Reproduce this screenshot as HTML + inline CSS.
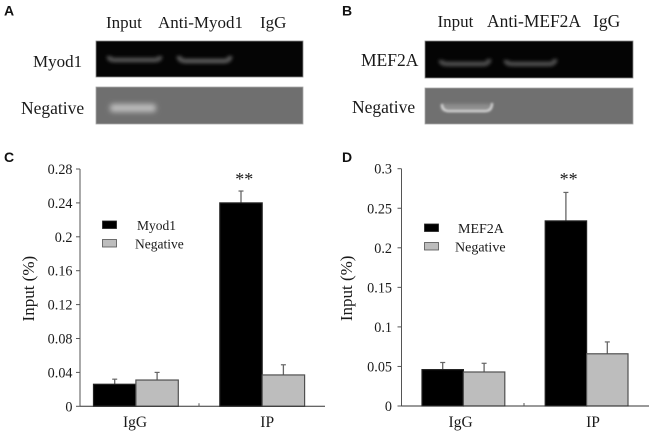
<!DOCTYPE html>
<html>
<head>
<meta charset="utf-8">
<style>
html,body{margin:0;padding:0;background:#fff;width:649px;height:433px;overflow:hidden}
svg{display:block}
text{font-family:"Liberation Serif",serif;fill:#1a1a1a}
.panel{font-family:"Liberation Sans",sans-serif;font-weight:bold;font-size:14px;fill:#111}
</style>
</head>
<body>
<svg id="fig" xmlns="http://www.w3.org/2000/svg" width="649" height="433" viewBox="0 0 649 433">
<defs>
<filter id="b1" x="-30%" y="-150%" width="160%" height="400%"><feGaussianBlur stdDeviation="1.6"/></filter>
<filter id="b2" x="-30%" y="-100%" width="160%" height="300%"><feGaussianBlur stdDeviation="2.6"/></filter>
<filter id="b3" x="-30%" y="-150%" width="160%" height="400%"><feGaussianBlur stdDeviation="1"/></filter>
</defs>

<text class="panel" x="4" y="15.5">A</text>
<text class="panel" x="342" y="15.5">B</text>
<text class="panel" x="4" y="162">C</text>
<text class="panel" x="342" y="162">D</text>

<g font-size="17">
<text x="106" y="28">Input</text>
<text x="158" y="28">Anti-Myod1</text>
<text x="260" y="28">IgG</text>
<text x="33" y="67">Myod1</text>
<text x="21" y="114" font-size="17.5">Negative</text>
<rect x="96" y="41" width="207" height="36" fill="#050505" stroke="#8a8a8a" stroke-width="0.8"/>
<path d="M109 56 Q109 60 115 60 H154 Q160 60 160 56" fill="none" stroke="#4e4e4e" stroke-width="5" filter="url(#b1)"/>
<path d="M179 56 Q179 61 186 61 H224 Q230 61 230 56" fill="none" stroke="#525252" stroke-width="5" filter="url(#b1)"/>
<rect x="96" y="87" width="207" height="37" fill="#6f6f6f" stroke="#a8a8a8" stroke-width="0.8"/>
<rect x="110" y="104" width="46" height="8" rx="3" fill="#bdbdbd" filter="url(#b2)"/>
</g>

<g font-size="17.5">
<text x="437.5" y="27" font-size="17">Input</text>
<text x="487" y="27" textLength="94" lengthAdjust="spacingAndGlyphs">Anti-MEF2A</text>
<text x="593" y="27">IgG</text>
<text x="361" y="66">MEF2A</text>
<text x="352" y="113">Negative</text>
<rect x="425" y="41" width="208" height="37" fill="#040404" stroke="#8a8a8a" stroke-width="0.8"/>
<path d="M441 60 Q441 64 448 64 H483 Q489 64 489 59" fill="none" stroke="#4a4a4a" stroke-width="5" filter="url(#b1)"/>
<path d="M506 60 Q506 64 513 64 H549 Q555 64 555 59" fill="none" stroke="#4a4a4a" stroke-width="5" filter="url(#b1)"/>
<rect x="425" y="88" width="208" height="36" fill="#707070" stroke="#a8a8a8" stroke-width="0.8"/>
<rect x="441" y="104" width="50" height="7" rx="3" fill="#8e8e8e" filter="url(#b1)"/>
<path d="M442 104 Q442 111 449 111 H485 Q492 111 492 103" fill="none" stroke="#d4d4d4" stroke-width="2.4" filter="url(#b3)"/>
</g>

<g id="chartC"></g>
<g id="chartD"></g>
</svg>

<script>
var categories = ['IgG', 'IP'];
var cSeriesNames = ['Myod1', 'Negative'];
var cTicks = ['0', '0.04', '0.08', '0.12', '0.16', '0.2', '0.24', '0.28'];
var cTickValues = [0, 0.04, 0.08, 0.12, 0.16, 0.2, 0.24, 0.28];
var cMyod1 = [0.026, 0.24];
var cMyod1Err = [0.006, 0.014];
var cNegative = [0.031, 0.037];
var cNegativeErr = [0.009, 0.012];

var dSeriesNames = ['MEF2A', 'Negative'];
var dTicks = ['0', '0.05', '0.1', '0.15', '0.2', '0.25', '0.3'];
var dTickValues = [0, 0.05, 0.1, 0.15, 0.2, 0.25, 0.3];
var dMef2a = [0.046, 0.234];
var dMef2aErr = [0.009, 0.036];
var dNegative = [0.043, 0.066];
var dNegativeErr = [0.011, 0.015];

var NS = 'http://www.w3.org/2000/svg';
function mk(parent, tag, attrs, txt) {
  var el = document.createElementNS(NS, tag);
  for (var k in attrs) el.setAttribute(k, attrs[k]);
  if (txt !== undefined) el.textContent = txt;
  parent.appendChild(el);
  return el;
}

function drawChart(o) {
  var g = document.getElementById(o.id);
  function y(v) { return o.y0 - (v / o.yMax) * (o.y0 - o.yTop); }
  var el;

  // bars first so axes sit on top
  var colors = ['#000000', '#bdbdbd'];
  var strokes = ['#222222', '#505050'];
  var sets = [[o.a, o.aErr], [o.b, o.bErr]];
  for (var c = 0; c < categories.length; c++) {
    for (var s = 0; s < 2; s++) {
      var val = sets[s][0][c], err = sets[s][1][c];
      var left = o.groupLeft[c] + s * o.barW;
      var cx = left + o.barW / 2;
      el = mk(g, 'line', {x1: cx, x2: cx, y1: y(val), y2: y(val + err), stroke: '#666', 'stroke-width': 1.3});
      
      
      el = mk(g, 'line', {x1: cx - 2.5, x2: cx + 2.5, y1: y(val + err), y2: y(val + err), stroke: '#666', 'stroke-width': 1.2});
      
      
      el = mk(g, 'rect', {x: left, y: y(val), width: o.barW, height: o.y0 - y(val), fill: colors[s], stroke: strokes[s], 'stroke-width': 1.2});
      
      
    }
  }

  // y axis
  el = mk(g, 'line', {x1: o.x0, x2: o.x0, y1: o.yTop, y2: o.y0, stroke: '#555', 'stroke-width': 1});
  
  
  for (var i = 0; i < o.tickValues.length; i++) {
    var ty = y(o.tickValues[i]);
    el = mk(g, 'line', {x1: o.x0 - 4, x2: o.x0, y1: ty, y2: ty, stroke: '#555', 'stroke-width': 1});
    
    
    el = mk(g, 'text', {x: o.tickRight, y: ty + 5, 'text-anchor': 'end', 'font-size': 14.2}, o.ticks[i]);
    
    
  }

  // x axis
  el = mk(g, 'line', {x1: o.x0, x2: o.xEnd, y1: o.y0, y2: o.y0, stroke: '#333', 'stroke-width': 1});
  
  
  el = mk(g, 'line', {x1: o.xMid, x2: o.xMid, y1: o.y0 - 3, y2: o.y0, stroke: '#555', 'stroke-width': 1});
  
  
  for (var j = 0; j < categories.length; j++) {
    el = mk(g, 'text', {x: o.groupLeft[j] + o.barW + o.labelShift[j], y: 427, 'text-anchor': 'middle', 'font-size': 15.5}, categories[j]);
    
    
  }

  // y title
  el = mk(g, 'text', {transform: 'translate(' + o.titleX + ',' + ((o.y0 + o.yTop) / 2 + 1) + ') rotate(-90)', 'text-anchor': 'middle', 'font-size': 17}, 'Input (%)');
  
  

  // significance
  el = mk(g, 'text', {x: o.groupLeft[1] + o.barW - 27, y: o.starY, 'font-size': 18}, '**');
  
  

  // legend
  for (var n = 0; n < 2; n++) {
    el = mk(g, 'rect', {x: o.legX, y: o.legY + n * o.legGap, width: 14, height: 7.5, fill: colors[n], stroke: strokes[n], 'stroke-width': 0.8});
    
    
    el = mk(g, 'text', {x: o.legText[n], y: o.legY + n * o.legGap + 9, 'font-size': o.legFont}, o.names[n]);
    
    
  }
}

drawChart({
  id: 'chartC', x0: 80, xEnd: 325, xMid: 199, y0: 406.3, yTop: 169, yMax: 0.28,
  groupLeft: [93.5, 219.8], barW: 42.4, tickRight: 72.5, labelShift: [-0.9, 5],
  a: cMyod1, aErr: cMyod1Err, b: cNegative, bErr: cNegativeErr,
  ticks: cTicks, tickValues: cTickValues, names: cSeriesNames,
  titleX: 34, starY: 185, legX: 102.5, legY: 221, legGap: 18.5, legText: [137, 135], legFont: 13.5
});

drawChart({
  id: 'chartD', x0: 401.5, xEnd: 649, xMid: 524, y0: 406, yTop: 168.7, yMax: 0.3,
  groupLeft: [422, 545.2], barW: 41.4, tickRight: 392, labelShift: [-2.8, 6.4],
  a: dMef2a, aErr: dMef2aErr, b: dNegative, bErr: dNegativeErr,
  ticks: dTicks, tickValues: dTickValues, names: dSeriesNames,
  titleX: 352, starY: 185, legX: 424.5, legY: 224, legGap: 18.5, legText: [458, 455], legFont: 14
});
</script>
</body>
</html>
